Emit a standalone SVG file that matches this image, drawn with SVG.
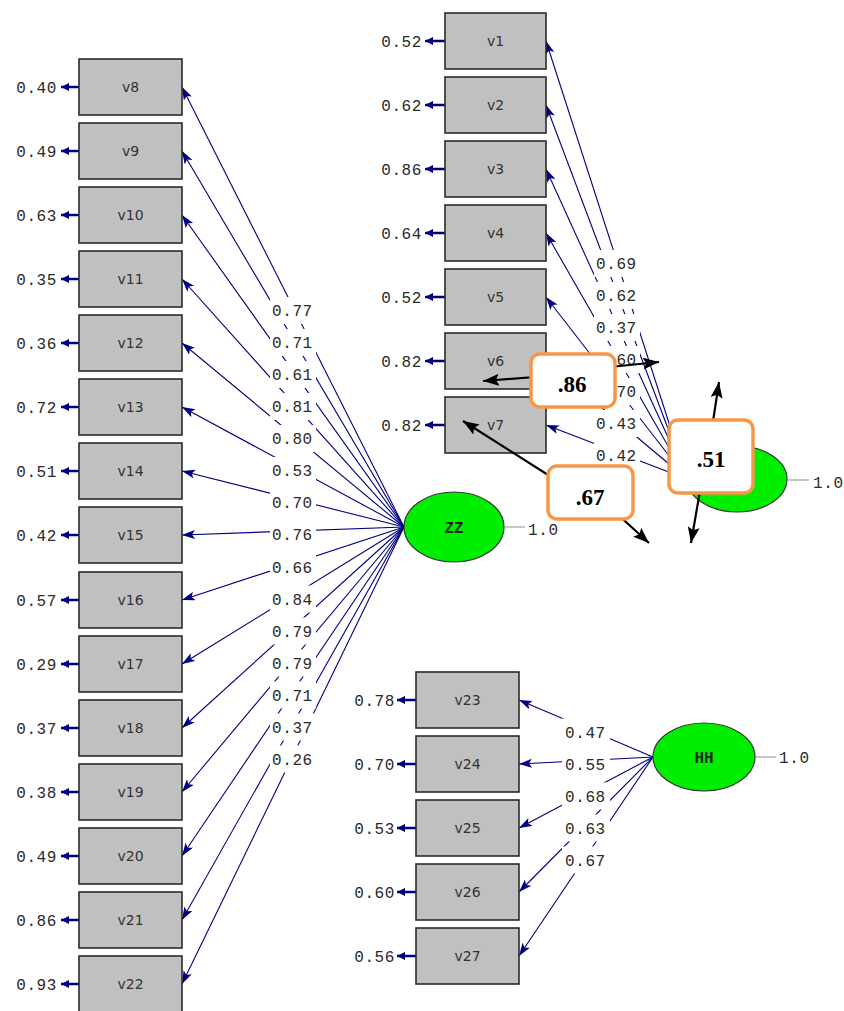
<svg xmlns="http://www.w3.org/2000/svg" width="844" height="1011" viewBox="0 0 844 1011">
<style>
.bg{fill:#ffffff}
.p{stroke:#000080;stroke-width:1.1;fill:none;marker-end:url(#ah)}
.e{stroke:#000080;stroke-width:2.5;fill:none;marker-end:url(#eh)}
.lb{fill:#ffffff}
.num{font-family:"Liberation Mono",monospace;font-size:16px;letter-spacing:0.6px;fill:#2a2a2a}
.box{fill:#c0c0c0;stroke:#2b2b2b;stroke-width:1.6}
.bt{font-family:"DejaVu Sans",Tahoma,sans-serif;font-size:14px;fill:#333333;text-anchor:middle}
.lat{fill:#00ee00;stroke:#333333;stroke-width:1.2}
.lt{font-family:"Liberation Mono",monospace;font-size:16px;font-weight:bold;fill:#1e2a1e;text-anchor:middle}
.one{stroke:#b4b4b4;stroke-width:1.5}
.co{fill:#ffffff;stroke:#f79646;stroke-width:3.5}
.ct{font-family:"Liberation Serif","Times New Roman",serif;font-size:23px;font-weight:bold;fill:#000000;text-anchor:middle}
.ba{stroke:#000000;stroke-width:2.2;fill:none;marker-end:url(#bh)}
</style>
<defs>
<marker id="ah" markerWidth="15" markerHeight="10" refX="13" refY="4.5" orient="auto" markerUnits="userSpaceOnUse"><path d="M0,0 L13,4.5 L0,9 L3,4.5 z" fill="#000080"/></marker>
<marker id="eh" markerWidth="10" markerHeight="9" refX="8" refY="4" orient="auto" markerUnits="userSpaceOnUse"><path d="M0,0 L8,4 L0,8 z" fill="#000080"/></marker>
<marker id="bh" markerWidth="18" markerHeight="14" refX="16" refY="6" orient="auto" markerUnits="userSpaceOnUse"><path d="M0,0 L16,6 L0,12 L3,6 z" fill="#000000"/></marker>
</defs>
<rect class="bg" x="0" y="0" width="844" height="1011"/>

<g id="connectors">
<g id="zz-paths">
<path class="p" d="M404,527 L182,87"/>
<path class="p" d="M404,527 L182,151"/>
<path class="p" d="M404,527 L182,215"/>
<path class="p" d="M404,527 L182,279"/>
<path class="p" d="M404,527 L182,343"/>
<path class="p" d="M404,527 L182,407"/>
<path class="p" d="M404,527 L182,471"/>
<path class="p" d="M404,527 L182,535"/>
<path class="p" d="M404,527 L182,600"/>
<path class="p" d="M404,527 L182,664"/>
<path class="p" d="M404,527 L182,728"/>
<path class="p" d="M404,527 L182,792"/>
<path class="p" d="M404,527 L182,856"/>
<path class="p" d="M404,527 L182,920"/>
<path class="p" d="M404,527 L182,984"/>
</g>
<g id="top-paths">
<path class="p" d="M687,479 L546,41"/>
<path class="p" d="M687,479 L546,105"/>
<path class="p" d="M687,479 L546,169"/>
<path class="p" d="M687,479 L546,233"/>
<path class="p" d="M687,479 L546,297"/>
<path class="p" d="M687,479 L546,361"/>
<path class="p" d="M687,479 L546,425"/>
</g>
<g id="hh-paths">
<path class="p" d="M653,757 L519,700"/>
<path class="p" d="M653,757 L519,764"/>
<path class="p" d="M653,757 L519,828"/>
<path class="p" d="M653,757 L519,892"/>
<path class="p" d="M653,757 L519,956"/>
</g>
<g id="error-arrows">
<line class="e" x1="79" y1="87" x2="61" y2="87"/>
<line class="e" x1="79" y1="151" x2="61" y2="151"/>
<line class="e" x1="79" y1="215" x2="61" y2="215"/>
<line class="e" x1="79" y1="279" x2="61" y2="279"/>
<line class="e" x1="79" y1="343" x2="61" y2="343"/>
<line class="e" x1="79" y1="407" x2="61" y2="407"/>
<line class="e" x1="79" y1="471" x2="61" y2="471"/>
<line class="e" x1="79" y1="535" x2="61" y2="535"/>
<line class="e" x1="79" y1="600" x2="61" y2="600"/>
<line class="e" x1="79" y1="664" x2="61" y2="664"/>
<line class="e" x1="79" y1="728" x2="61" y2="728"/>
<line class="e" x1="79" y1="792" x2="61" y2="792"/>
<line class="e" x1="79" y1="856" x2="61" y2="856"/>
<line class="e" x1="79" y1="920" x2="61" y2="920"/>
<line class="e" x1="79" y1="984" x2="61" y2="984"/>
<line class="e" x1="445" y1="41" x2="425" y2="41"/>
<line class="e" x1="445" y1="105" x2="425" y2="105"/>
<line class="e" x1="445" y1="169" x2="425" y2="169"/>
<line class="e" x1="445" y1="233" x2="425" y2="233"/>
<line class="e" x1="445" y1="297" x2="425" y2="297"/>
<line class="e" x1="445" y1="361" x2="425" y2="361"/>
<line class="e" x1="445" y1="425" x2="425" y2="425"/>
<line class="e" x1="416" y1="700" x2="397" y2="700"/>
<line class="e" x1="416" y1="764" x2="397" y2="764"/>
<line class="e" x1="416" y1="828" x2="397" y2="828"/>
<line class="e" x1="416" y1="892" x2="397" y2="892"/>
<line class="e" x1="416" y1="956" x2="397" y2="956"/>
</g>
<g id="one-lines">
<line class="one" x1="505" y1="527" x2="525" y2="527"/>
<line class="one" x1="788" y1="480" x2="809" y2="480"/>
<line class="one" x1="756" y1="757" x2="776" y2="757"/>
</g>
<g id="path-labels">
<rect class="lb" x="270" y="297" width="46" height="27"/><text class="num" x="272" y="316">0.77</text>
<rect class="lb" x="270" y="329" width="46" height="27"/><text class="num" x="272" y="348">0.71</text>
<rect class="lb" x="270" y="361" width="46" height="27"/><text class="num" x="272" y="380">0.61</text>
<rect class="lb" x="270" y="393" width="46" height="27"/><text class="num" x="272" y="412">0.81</text>
<rect class="lb" x="270" y="425" width="46" height="27"/><text class="num" x="272" y="444">0.80</text>
<rect class="lb" x="270" y="457" width="46" height="27"/><text class="num" x="272" y="476">0.53</text>
<rect class="lb" x="270" y="489" width="46" height="27"/><text class="num" x="272" y="508">0.70</text>
<rect class="lb" x="270" y="521" width="46" height="27"/><text class="num" x="272" y="540">0.76</text>
<rect class="lb" x="270" y="553.5" width="46" height="27"/><text class="num" x="272" y="572.5">0.66</text>
<rect class="lb" x="270" y="585.5" width="46" height="27"/><text class="num" x="272" y="604.5">0.84</text>
<rect class="lb" x="270" y="617.5" width="46" height="27"/><text class="num" x="272" y="636.5">0.79</text>
<rect class="lb" x="270" y="649.5" width="46" height="27"/><text class="num" x="272" y="668.5">0.79</text>
<rect class="lb" x="270" y="681.5" width="46" height="27"/><text class="num" x="272" y="700.5">0.71</text>
<rect class="lb" x="270" y="713.5" width="46" height="27"/><text class="num" x="272" y="732.5">0.37</text>
<rect class="lb" x="270" y="745.5" width="46" height="27"/><text class="num" x="272" y="764.5">0.26</text>
<rect class="lb" x="594" y="250" width="46" height="27"/><text class="num" x="596" y="269">0.69</text>
<rect class="lb" x="594" y="282" width="46" height="27"/><text class="num" x="596" y="301">0.62</text>
<rect class="lb" x="594" y="314" width="46" height="27"/><text class="num" x="596" y="333">0.37</text>
<rect class="lb" x="594" y="346" width="46" height="27"/><text class="num" x="596" y="365">0.60</text>
<rect class="lb" x="594" y="378" width="46" height="27"/><text class="num" x="596" y="397">0.70</text>
<rect class="lb" x="594" y="410" width="46" height="27"/><text class="num" x="596" y="429">0.43</text>
<rect class="lb" x="594" y="442" width="46" height="27"/><text class="num" x="596" y="461">0.42</text>
<rect class="lb" x="562" y="718.5" width="48" height="27"/><text class="num" x="565" y="737.5">0.47</text>
<rect class="lb" x="562" y="750.5" width="48" height="27"/><text class="num" x="565" y="769.5">0.55</text>
<rect class="lb" x="562" y="782.5" width="48" height="27"/><text class="num" x="565" y="801.5">0.68</text>
<rect class="lb" x="562" y="814.5" width="48" height="27"/><text class="num" x="565" y="833.5">0.63</text>
<rect class="lb" x="562" y="846.5" width="48" height="27"/><text class="num" x="565" y="865.5">0.67</text>
</g>
<g id="error-labels" class="num" text-anchor="end">
<text x="57" y="93">0.40</text>
<text x="57" y="157">0.49</text>
<text x="57" y="221">0.63</text>
<text x="57" y="285">0.35</text>
<text x="57" y="349">0.36</text>
<text x="57" y="413">0.72</text>
<text x="57" y="477">0.51</text>
<text x="57" y="541">0.42</text>
<text x="57" y="606">0.57</text>
<text x="57" y="670">0.29</text>
<text x="57" y="734">0.37</text>
<text x="57" y="798">0.38</text>
<text x="57" y="862">0.49</text>
<text x="57" y="926">0.86</text>
<text x="57" y="990">0.93</text>
<text x="422" y="47">0.52</text>
<text x="422" y="111">0.62</text>
<text x="422" y="175">0.86</text>
<text x="422" y="239">0.64</text>
<text x="422" y="303">0.52</text>
<text x="422" y="367">0.82</text>
<text x="422" y="431">0.82</text>
<text x="395" y="706">0.78</text>
<text x="395" y="770">0.70</text>
<text x="395" y="834">0.53</text>
<text x="395" y="898">0.60</text>
<text x="395" y="962">0.56</text>
</g>
<g id="one-labels" class="num" letter-spacing="1.5">
<text x="528" y="535">1.0</text>
<text x="813" y="488">1.0</text>
<text x="779" y="763">1.0</text>
</g>
</g>

<g id="node-v8"><rect class="box" x="79" y="59" width="103" height="56"/><text class="bt" x="130.5" y="92">v8</text></g>
<g id="node-v9"><rect class="box" x="79" y="123" width="103" height="56"/><text class="bt" x="130.5" y="156">v9</text></g>
<g id="node-v10"><rect class="box" x="79" y="187" width="103" height="56"/><text class="bt" x="130.5" y="220">v10</text></g>
<g id="node-v11"><rect class="box" x="79" y="251" width="103" height="56"/><text class="bt" x="130.5" y="284">v11</text></g>
<g id="node-v12"><rect class="box" x="79" y="315" width="103" height="56"/><text class="bt" x="130.5" y="348">v12</text></g>
<g id="node-v13"><rect class="box" x="79" y="379" width="103" height="56"/><text class="bt" x="130.5" y="412">v13</text></g>
<g id="node-v14"><rect class="box" x="79" y="443" width="103" height="56"/><text class="bt" x="130.5" y="476">v14</text></g>
<g id="node-v15"><rect class="box" x="79" y="507" width="103" height="56"/><text class="bt" x="130.5" y="540">v15</text></g>
<g id="node-v16"><rect class="box" x="79" y="572" width="103" height="56"/><text class="bt" x="130.5" y="605">v16</text></g>
<g id="node-v17"><rect class="box" x="79" y="636" width="103" height="56"/><text class="bt" x="130.5" y="669">v17</text></g>
<g id="node-v18"><rect class="box" x="79" y="700" width="103" height="56"/><text class="bt" x="130.5" y="733">v18</text></g>
<g id="node-v19"><rect class="box" x="79" y="764" width="103" height="56"/><text class="bt" x="130.5" y="797">v19</text></g>
<g id="node-v20"><rect class="box" x="79" y="828" width="103" height="56"/><text class="bt" x="130.5" y="861">v20</text></g>
<g id="node-v21"><rect class="box" x="79" y="892" width="103" height="56"/><text class="bt" x="130.5" y="925">v21</text></g>
<g id="node-v22"><rect class="box" x="79" y="956" width="103" height="56"/><text class="bt" x="130.5" y="989">v22</text></g>

<g id="node-v1"><rect class="box" x="445" y="13" width="101" height="56"/><text class="bt" x="495.5" y="46">v1</text></g>
<g id="node-v2"><rect class="box" x="445" y="77" width="101" height="56"/><text class="bt" x="495.5" y="110">v2</text></g>
<g id="node-v3"><rect class="box" x="445" y="141" width="101" height="56"/><text class="bt" x="495.5" y="174">v3</text></g>
<g id="node-v4"><rect class="box" x="445" y="205" width="101" height="56"/><text class="bt" x="495.5" y="238">v4</text></g>
<g id="node-v5"><rect class="box" x="445" y="269" width="101" height="56"/><text class="bt" x="495.5" y="302">v5</text></g>
<g id="node-v6"><rect class="box" x="445" y="333" width="101" height="56"/><text class="bt" x="495.5" y="366">v6</text></g>
<g id="node-v7"><rect class="box" x="445" y="397" width="101" height="56"/><text class="bt" x="495.5" y="430">v7</text></g>

<g id="node-v23"><rect class="box" x="416" y="672" width="103" height="56"/><text class="bt" x="467.5" y="705">v23</text></g>
<g id="node-v24"><rect class="box" x="416" y="736" width="103" height="56"/><text class="bt" x="467.5" y="769">v24</text></g>
<g id="node-v25"><rect class="box" x="416" y="800" width="103" height="56"/><text class="bt" x="467.5" y="833">v25</text></g>
<g id="node-v26"><rect class="box" x="416" y="864" width="103" height="56"/><text class="bt" x="467.5" y="897">v26</text></g>
<g id="node-v27"><rect class="box" x="416" y="928" width="103" height="56"/><text class="bt" x="467.5" y="961">v27</text></g>

<g id="node-ZZ"><ellipse class="lat" cx="454" cy="527" rx="50" ry="35"/><text class="lt" x="454" y="533">ZZ</text></g>
<g id="node-top-factor"><ellipse class="lat" cx="737" cy="479" rx="50" ry="33"/></g>
<g id="node-HH"><ellipse class="lat" cx="704" cy="757" rx="51" ry="34"/><text class="lt" x="704" y="763">HH</text></g>

<g id="callout-arrows">
<line class="ba" x1="535" y1="377" x2="483" y2="381"/>
<line class="ba" x1="610" y1="367" x2="659" y2="362"/>
<line class="ba" x1="556" y1="480" x2="463" y2="421"/>
<line class="ba" x1="615" y1="512" x2="649" y2="543"/>
<line class="ba" x1="712" y1="428" x2="719" y2="382"/>
<line class="ba" x1="701" y1="485" x2="691" y2="543"/>
</g>
<g id="callout-86"><rect class="co" x="531" y="354" width="84" height="53" rx="9"/><text class="ct" x="572" y="392">.86</text></g>
<g id="callout-67"><rect class="co" x="548" y="466" width="85" height="53" rx="9"/><text class="ct" x="590" y="505">.67</text></g>
<g id="callout-51"><rect class="co" x="669" y="420" width="84" height="73" rx="9"/><text class="ct" x="711" y="467">.51</text></g>
</svg>
